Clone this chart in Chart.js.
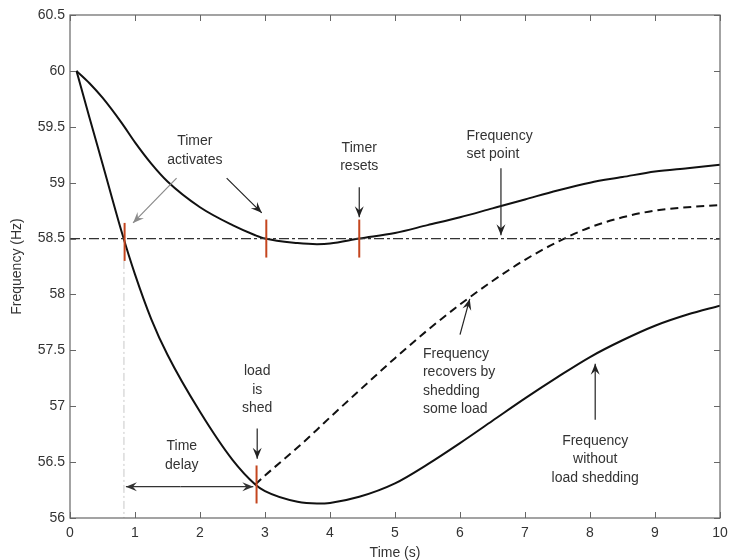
<!DOCTYPE html>
<html>
<head>
<meta charset="utf-8">
<script src="https://cdn.jsdelivr.net/npm/chart.js@4.4.0/dist/chart.umd.min.js"></script>
<style>
  body { margin: 0; background: #fff; }
</style>
</head>
<body>
<canvas id="freq-chart" width="729" height="560"></canvas>
<script>
// time axis (s) shared by all curves
const timeS = [0.1, 0.3, 0.5, 0.8, 1.0, 1.25, 1.5, 2.0, 2.5, 2.85, 3.0, 3.5, 3.8, 4.0, 4.45, 5.0, 5.5, 6.0, 6.5, 7.0, 7.5, 8.0, 8.5, 9.0, 9.5, 10.0];
// upper curve: timer activates / resets
const freqTimer = [60, 59.89, 59.76, 59.53, 59.36, 59.17, 59.01, 58.78, 58.62, 58.53, 58.5, 58.46, 58.45, 58.455, 58.5, 58.55, 58.62, 58.69, 58.77, 58.85, 58.93, 59.0, 59.05, 59.1, 59.13, 59.16];
// lower curve: no load shedding
const freqNoShed = [60, 59.58, 59.17, 58.55, 58.18, 57.78, 57.46, 56.95, 56.52, 56.3, 56.24, 56.145, 56.13, 56.135, 56.19, 56.31, 56.48, 56.67, 56.87, 57.07, 57.26, 57.44, 57.59, 57.72, 57.82, 57.9];
// dashed curve: recovers after shedding (starts when load is shed)
const freqShed = [null, null, null, null, null, null, null, null, null, 56.3, 56.38, 56.63, 56.79, 56.9, 57.14, 57.43, 57.68, 57.91, 58.12, 58.31, 58.47, 58.6, 58.69, 58.75, 58.78, 58.8];

const setPoint = 58.5;
const setTimes = [0, 10];
const delayStart = 0.83;
const delayLevels = [58.3, 56];

// red markers (time, level)
const markTimes = [0.84, 3.02, 4.45, 2.87];
const markLevels = [58.47, 58.5, 58.5, 56.3];

// text notes: lines, anchor (time, level of first line), alignment
const notes = [
    { lines: ["Timer", "activates"], t: 1.92, v: 59.37, align: "center" },
    { lines: ["Timer", "resets"], t: 4.45, v: 59.31, align: "center" },
    { lines: ["Frequency", "set point"], t: 6.1, v: 59.42, align: "left" },
    { lines: ["Frequency", "recovers by", "shedding", "some load"], t: 5.43, v: 57.47, align: "left" },
    { lines: ["Frequency", "without", "load shedding"], t: 8.08, v: 56.69, align: "center" },
    { lines: ["load", "is", "shed"], t: 2.88, v: 57.31, align: "center" },
    { lines: ["Time", "delay"], t: 1.72, v: 56.64, align: "center" },
];

// arrows: from -> to (time, level)
const arrows = [
    { from: [1.64, 59.04], to: [0.97, 58.64], color: "#8a8a8a" },
    { from: [2.41, 59.04], to: [2.95, 58.73], color: "#222" },
    { from: [4.45, 58.96], to: [4.45, 58.69], color: "#222" },
    { from: [6.63, 59.13], to: [6.63, 58.53], color: "#222" },
    { from: [6.0, 57.64], to: [6.15, 57.96], color: "#222" },
    { from: [8.08, 56.88], to: [8.08, 57.38], color: "#222" },
    { from: [2.88, 56.8], to: [2.88, 56.53], color: "#222" },
    { from: [1.7, 56.28], to: [0.86, 56.28], color: "#333" },
    { from: [1.7, 56.28], to: [2.82, 56.28], color: "#333" },
];

const FONT = "'Liberation Sans', Arial, sans-serif";

function pts(xs, ys) {
    return xs.map((t, i) => ({ x: t, y: ys[i] })).filter((p) => p.y !== null);
}

function arrowHead(ctx, x0, y0, x1, y1) {
    const a = Math.atan2(y1 - y0, x1 - x0);
    const len = 11, wid = 4.5, notch = 7;
    ctx.beginPath();
    ctx.moveTo(x1, y1);
    ctx.lineTo(x1 - len * Math.cos(a) + wid * Math.sin(a), y1 - len * Math.sin(a) - wid * Math.cos(a));
    ctx.lineTo(x1 - notch * Math.cos(a), y1 - notch * Math.sin(a));
    ctx.lineTo(x1 - len * Math.cos(a) - wid * Math.sin(a), y1 - len * Math.sin(a) + wid * Math.cos(a));
    ctx.closePath();
    ctx.fill();
}

const framePlugin = {
    id: "frame",
    afterDraw(chart) {
        const ctx = chart.ctx;
        const x = chart.scales.x, y = chart.scales.y;
        const { left, right, top, bottom } = chart.chartArea;
        ctx.save();
        // box and inward ticks
        ctx.strokeStyle = "#666";
        ctx.lineWidth = 1.2;
        ctx.strokeRect(left, top, right - left, bottom - top);
        ctx.lineWidth = 1;
        x.ticks.forEach((tk) => {
            const X = Math.round(x.getPixelForValue(tk.value)) + 0.5;
            ctx.beginPath();
            ctx.moveTo(X, bottom); ctx.lineTo(X, bottom - 6);
            ctx.moveTo(X, top); ctx.lineTo(X, top + 6);
            ctx.stroke();
        });
        y.ticks.forEach((tk) => {
            const Y = Math.round(y.getPixelForValue(tk.value)) + 0.5;
            ctx.beginPath();
            ctx.moveTo(left, Y); ctx.lineTo(left + 6, Y);
            ctx.moveTo(right, Y); ctx.lineTo(right - 6, Y);
            ctx.stroke();
        });

        // red markers
        ctx.strokeStyle = "#c4461f";
        ctx.lineWidth = 2;
        markTimes.forEach((t, i) => {
            const X = x.getPixelForValue(t);
            ctx.beginPath();
            ctx.moveTo(X, y.getPixelForValue(markLevels[i] + 0.17));
            ctx.lineTo(X, y.getPixelForValue(markLevels[i] - 0.17));
            ctx.stroke();
        });

        // arrows
        ctx.lineWidth = 1.2;
        arrows.forEach((ar) => {
            const x0 = x.getPixelForValue(ar.from[0]), y0 = y.getPixelForValue(ar.from[1]);
            const x1 = x.getPixelForValue(ar.to[0]), y1 = y.getPixelForValue(ar.to[1]);
            ctx.strokeStyle = ar.color;
            ctx.fillStyle = ar.color;
            ctx.beginPath();
            ctx.moveTo(x0, y0);
            ctx.lineTo(x1, y1);
            ctx.stroke();
            arrowHead(ctx, x0, y0, x1, y1);
        });

        // notes
        ctx.fillStyle = "#333";
        ctx.font = "14px " + FONT;
        ctx.textBaseline = "middle";
        notes.forEach((n) => {
            ctx.textAlign = n.align;
            const X = x.getPixelForValue(n.t);
            const Y = y.getPixelForValue(n.v);
            n.lines.forEach((ln, i) => ctx.fillText(ln, X, Y + i * 18.5));
        });
        ctx.restore();
    },
};

const ctx = document.getElementById("freq-chart").getContext("2d");

new Chart(ctx, {
    type: "line",
    data: {
        datasets: [
            {
                data: pts(setTimes, setTimes.map(() => setPoint)),
                borderColor: "#333",
                borderWidth: 1.3,
                borderDash: [10, 3, 3, 3],
            },
            {
                data: pts([delayStart, delayStart], delayLevels),
                borderColor: "#c8c8c8",
                borderWidth: 1,
                borderDash: [8, 3, 2, 3],
            },
            {
                data: pts(timeS, freqTimer),
                borderColor: "#111",
                borderWidth: 2,
                cubicInterpolationMode: "monotone",
            },
            {
                data: pts(timeS, freqNoShed),
                borderColor: "#111",
                borderWidth: 2,
                cubicInterpolationMode: "monotone",
            },
            {
                data: pts(timeS, freqShed),
                borderColor: "#111",
                borderWidth: 2,
                borderDash: [8, 5],
                cubicInterpolationMode: "monotone",
            },
        ],
    },
    options: {
        responsive: false,
        animation: false,
        events: [],
        elements: { point: { radius: 0 } },
        layout: { padding: { top: 15, right: 9, left: 0, bottom: 0 } },
        plugins: { legend: { display: false }, tooltip: { enabled: false } },
        scales: {
            x: {
                type: "linear",
                min: 0,
                max: 10,
                ticks: { stepSize: 1, color: "#333", padding: 7, maxRotation: 0, font: { family: FONT, size: 14 } },
                grid: { display: false, drawTicks: false },
                border: { display: false },
                title: { display: true, text: "Time (s)", color: "#333", padding: { top: 0, bottom: -2 }, font: { family: FONT, size: 14 } },
                afterFit: (s) => { s.height = 42; s.paddingLeft = 0; s.paddingRight = 0; },
            },
            y: {
                min: 56,
                max: 60.5,
                ticks: {
                    stepSize: 0.5,
                    color: "#333",
                    padding: 5,
                    font: { family: FONT, size: 14 },
                    callback: (v) => String(Math.round(v * 10) / 10),
                },
                grid: { display: false, drawTicks: false },
                border: { display: false },
                title: { display: true, text: "Frequency (Hz)", color: "#333", padding: { top: 9, bottom: 0 }, font: { family: FONT, size: 14 } },
                afterFit: (s) => { s.width = 70; s.paddingTop = 0; s.paddingBottom = 0; },
            },
        },
    },
    plugins: [framePlugin],
});
</script>
</body>
</html>
